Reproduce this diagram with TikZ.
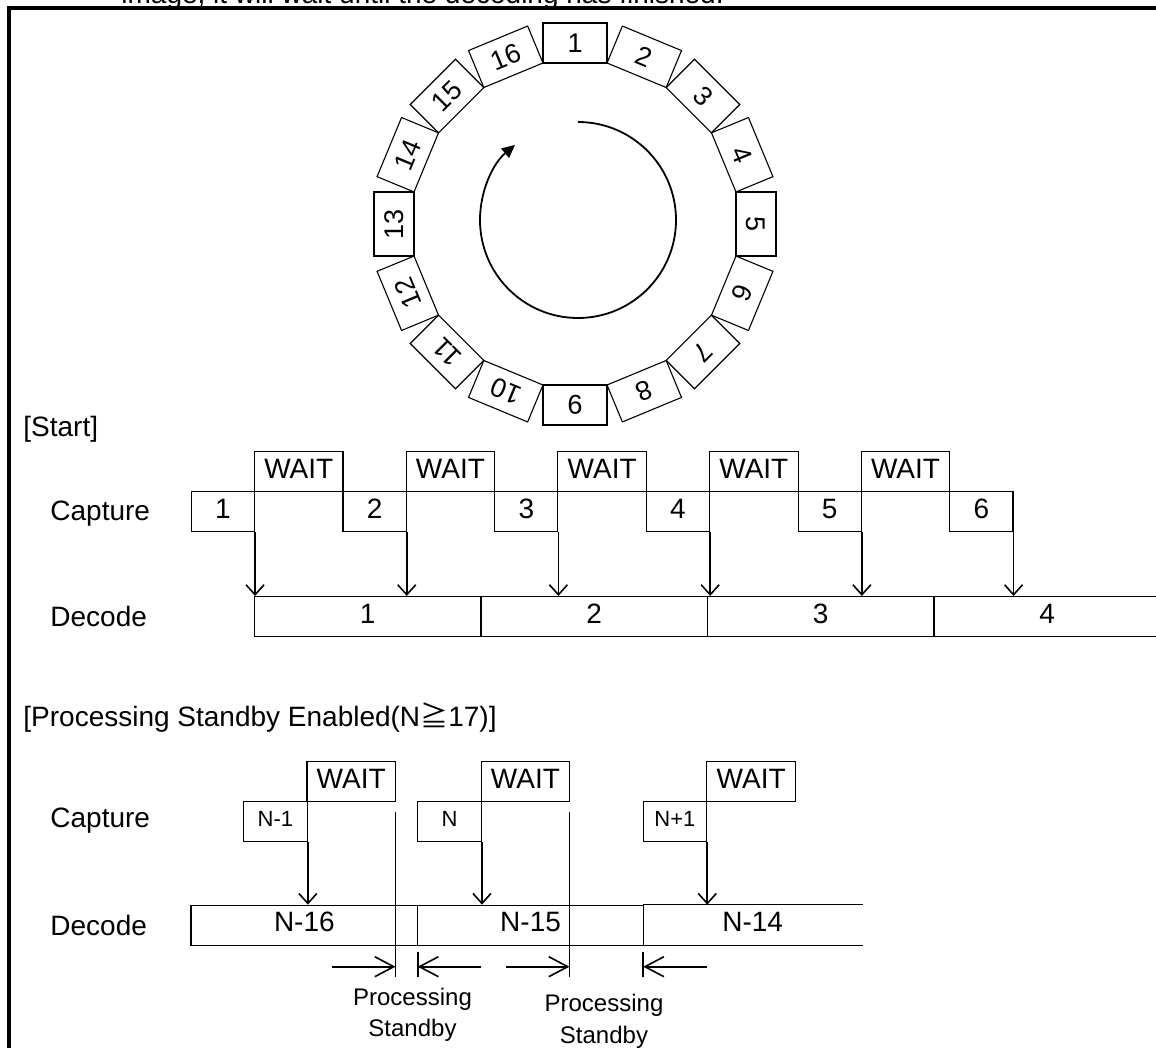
\documentclass[tikz,border=0pt]{standalone}
\usepackage{fontspec}
\setmainfont{Liberation Sans}
\newfontfamily\cjkfont{Noto Sans CJK JP}
\usetikzlibrary{arrows.meta}
\newcommand\fsM{\fontsize{14pt}{16pt}\selectfont}
\newcommand\fsR{\fontsize{13.5pt}{16pt}\selectfont}
\newcommand\fsS{\fontsize{12pt}{14pt}\selectfont}
\newcommand\fsN{\fontsize{11pt}{13pt}\selectfont}
\newcommand\fsT{\fontsize{14pt}{16pt}\selectfont}
\tikzset{
  bx/.style={draw, line width=0.55pt, inner sep=0pt, minimum height=20pt, text depth=3pt, font=\fsM},
  ringbox/.style={draw, line width=0.55pt, inner sep=0pt, minimum height=20pt, minimum width=32pt, font=\fsR},
  capbox/.style={bx},
  lbl/.style={inner sep=0pt, font=\fsM, anchor=base west},
  arr/.style={line width=0.8pt, -{Straight Barb[length=5pt,width=9pt]}},
  dimarr/.style={line width=0.8pt, -{Straight Barb[length=9.5pt,width=10pt]}},
  thin/.style={line width=0.8pt},
  small/.style={inner sep=0pt, font=\fsS, anchor=base},
}
\begin{document}
\begin{tikzpicture}[x=0.5pt,y=-0.5pt]
\useasboundingbox (0,0) rectangle (1156,1048);
\clip (0,0) rectangle (1156,1048);
% cut-off caption line and frame
\node[inner sep=0pt, font=\fsT, anchor=base west] (cap) at (121,4) {image, it will wait until the decoding has finished.};
\draw[line width=2pt] (8.7,1070) -- (8.7,8) -- (1170,8);

% ring of 16 buffers
\foreach \k in {1,...,16}{
  \pgfmathsetmacro\a{90-22.5*(\k-1)}
  \node[ringbox, rotate=\a-90] (r\k) at ({575+181*cos(\a)},{224-181*sin(\a)}) {\k};
}
\draw[line width=0.9pt, -{Triangle[length=6.5pt,width=6pt]}] (578,122) arc[start angle=-90, end angle=230, radius=98];

% ---------- [Start] ----------
\node[lbl] (start) at (23,436) {[Start]};
\node[lbl] (capL1) at (50,520) {Capture};
\node[lbl] (decL1) at (50,626.5) {Decode};

\node[capbox, minimum width=31.6pt] (c1) at (222.9,511.5) {1};
\node[capbox, minimum width=31.6pt] (c2) at (374.6,511.5) {2};
\node[capbox, minimum width=31.6pt] (c3) at (526.3,511.5) {3};
\node[capbox, minimum width=31.6pt] (c4) at (678.0,511.5) {4};
\node[capbox, minimum width=31.6pt] (c5) at (829.7,511.5) {5};
\node[capbox, minimum width=31.6pt] (c6) at (981.4,511.5) {6};

\node[bx, minimum width=44.25pt] (w1) at (298.75,471.5) {WAIT};
\node[bx, minimum width=44.25pt] (w2) at (450.45,471.5) {WAIT};
\node[bx, minimum width=44.25pt] (w3) at (602.15,471.5) {WAIT};
\node[bx, minimum width=44.25pt] (w4) at (753.85,471.5) {WAIT};
\node[bx, minimum width=44.25pt] (w5) at (905.55,471.5) {WAIT};

\node[bx, minimum width=113.25pt] (d1) at (367.75,616.5) {1};
\node[bx, minimum width=113.25pt] (d2) at (594.25,616.5) {2};
\node[bx, minimum width=113.25pt] (d3) at (820.75,616.5) {3};
\node[bx, minimum width=113.25pt] (d4) at (1047.25,616.5) {4};

\foreach \c in {c1,c2,c3,c4,c5,c6}{
  \draw[arr] (\c.south east) -- (\c.south east |- d1.north);
}

% ---------- Processing Standby ----------
\node[lbl] (title2) at (23,726) {[Processing Standby Enabled(N{\cjkfont ≧}17)]};
\node[lbl] (capL2) at (50,827) {Capture};
\node[lbl] (decL2) at (50,935) {Decode};

\node[bx, font=\fsN, minimum width=31.95pt] (n1) at (275.35,821.7) {N-1};
\node[bx, font=\fsN, minimum width=31.75pt] (n2) at (449.65,821.7) {N};
\node[bx, font=\fsN, minimum width=31.75pt] (n3) at (674.95,821.7) {N+1};
\node[bx, minimum width=44.25pt] (v1) at (351.2,781.7) {WAIT};
\node[bx, minimum width=44.05pt] (v2) at (525.45,781.7) {WAIT};
\node[bx, minimum width=44.5pt] (v3) at (751.2,781.7) {WAIT};

\node[bx, minimum width=113.35pt] (e1) at (304.35,925.2) {N-16};
\node[bx, minimum width=112.65pt] (e2) at (530.55,925.2) {N-15};
\node[inner sep=0pt, minimum height=20pt, text depth=3pt, minimum width=109.5pt, font=\fsM] (e3) at (752.7,925.2) {N-14};
\draw[line width=0.55pt] (e3.north west) -- (e3.north east);
\draw[line width=0.55pt] (e3.south west) -- (e3.south east);

\foreach \c in {n1,n2,n3}{
  \draw[arr] (\c.south east) -- (\c.south east |- e1.north);
}

\coordinate (s1t) at (395.5,811.5);
\coordinate (s1b) at (395.5,976.7);
\coordinate (s2t) at (569.5,811.5);
\coordinate (s2b) at (569.5,976.7);
\coordinate (t1t) at (417.7,951.7);
\coordinate (t1b) at (417.7,976.7);
\coordinate (t2t) at (643.2,951.7);
\coordinate (t2b) at (643.2,976.7);
\draw[thin] (s1t) -- (s1b);
\draw[thin] (s2t) -- (s2b);
\draw[thin] (t1t) -- (t1b);
\draw[thin] (t2t) -- (t2b);

\coordinate (a1s) at (331.7,966.7);
\coordinate (a1e) at (395.5,966.7);
\coordinate (a2s) at (481.4,966.7);
\coordinate (a2e) at (417.7,966.7);
\coordinate (a3s) at (506,966.7);
\coordinate (a3e) at (569.5,966.7);
\coordinate (a4s) at (706.7,966.7);
\coordinate (a4e) at (643.2,966.7);
\draw[dimarr] (a1s) -- (a1e);
\draw[dimarr] (a2s) -- (a2e);
\draw[dimarr] (a3s) -- (a3e);
\draw[dimarr] (a4s) -- (a4e);

\node[small] (p1a) at (412.5,1005) {Processing};
\node[small] (p1b) at (412.5,1036.7) {Standby};
\node[small] (p2a) at (604,1011) {Processing};
\node[small] (p2b) at (604,1043) {Standby};
\end{tikzpicture}
\end{document}
